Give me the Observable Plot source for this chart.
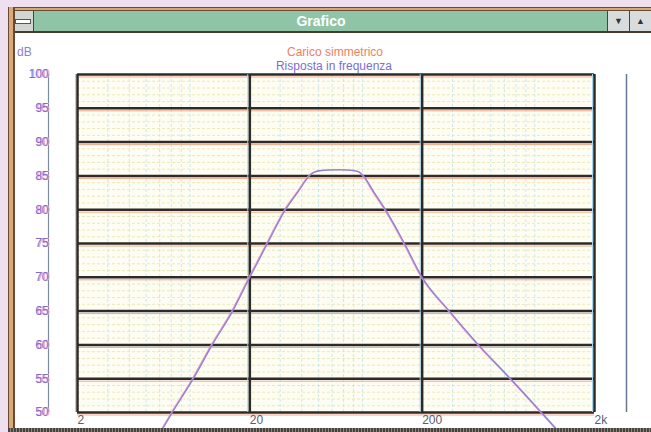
<!DOCTYPE html>
<html><head><meta charset="utf-8">
<script src="https://cdn.jsdelivr.net/npm/d3@7"></script>
<script src="https://cdn.jsdelivr.net/npm/@observablehq/plot@0.6"></script>
<style>
body{margin:0;background:#eee0ee;}
#win{position:relative;width:651px;height:432px;overflow:hidden;background:#eee0ee;font-family:"Liberation Sans",Arial,sans-serif;}
.abs{position:absolute;}
#frameTop{left:8px;top:7px;width:643px;height:4px;background:linear-gradient(#6a4a30 0 1px,#d6a878 1px 3px,#6a4a30 3px 4px);}
#frameLeft{left:8px;top:7px;width:7px;height:425px;background:linear-gradient(to right,#6a4a30 0 1px,#d8aa7a 1px 5px,#6a4a30 5px 7px);z-index:3;}
#titlebar{left:15px;top:11px;width:636px;height:20px;background:#8fc5a6;color:#fff;font-weight:bold;font-size:14px;line-height:20px;text-align:center;}
#titlebar span{position:absolute;left:0;width:612px;text-align:center;}
#sysbox{left:12px;top:11px;width:21px;height:20px;background:#d2d6d2;border-right:1px solid #444;}
#sysbox div{position:absolute;left:3px;top:8px;width:14px;height:3px;background:#fff;border:1px solid #555;}
.btn{top:11px;width:21px;height:20px;background:#d8dcdc;border-left:1px solid #444;color:#333;font-size:9px;line-height:20px;text-align:center;}
#under{left:8px;top:31px;width:643px;height:2px;background:#4a3a2e;}
#client{left:15px;top:33px;width:636px;height:395px;background:#fff;}
#bottom{left:8px;top:428px;width:643px;height:4px;background:repeating-linear-gradient(to right,#4a4440 0 2px,#8a847c 2px 3px);z-index:3;}
#t1{left:235px;width:200px;top:45px;text-align:center;color:#f2805c;font-size:12px;}
#t2{left:234px;width:200px;top:59px;text-align:center;color:#7a6ed0;font-size:12px;}
#db{left:17px;top:45px;color:#8a7ed6;font-size:12px;}
#plot{left:0;top:0;z-index:2;}
</style></head><body>
<div id="win">
  <div id="client" class="abs"></div>
  <div id="frameTop" class="abs"></div>
  <div id="frameLeft" class="abs"></div>
  <div id="titlebar" class="abs"><span>Grafico</span></div>
  <div id="sysbox" class="abs"><div></div></div>
  <div class="abs btn" style="left:607px;">▼</div>
  <div class="abs btn" style="left:629px;">▲</div>
  <div id="under" class="abs"></div>
  <div id="t1" class="abs">Carico simmetrico</div>
  <div id="t2" class="abs">Risposta in frequenza</div>
  <div id="db" class="abs">dB</div>
  <div id="plot" class="abs"></div>
  <div id="bottom" class="abs"></div>
</div>
<script>
// Frequency response (Hz -> dB)
const freqs  = [6.05, 7.1, 9.4, 12.1, 15.9, 20, 25.3, 32.2, 38, 44.4, 47, 52, 60, 70, 80, 86, 91.4, 105, 122.6, 158, 200, 288, 425, 652, 986, 1260];
const levels = [47, 50, 55, 60, 65, 70, 75, 80, 82.6, 85, 85.5, 85.8, 85.9, 85.9, 85.8, 85.6, 85, 82.6, 80, 75, 70, 65, 60, 55, 50, 47];

const yTicks = [50, 55, 60, 65, 70, 75, 80, 85, 90, 95, 100];
const xTicks = [2, 20, 200, 2000];
const xTickLabels = ["2", "20", "200", "2k"];
const minorFreqs = [3,4,5,6,7,8,9,30,40,50,60,70,80,90,300,400,500,600,700,800,900];
const minorDb = d3.range(50, 101, 1);

const data = freqs.map((f, i) => ({f, db: levels[i]}));

const chart = Plot.plot({
  width: 651, height: 432,
  marginLeft: 77, marginRight: 57, marginTop: 74, marginBottom: 20,
  style: {background: "transparent", fontFamily: "Liberation Sans, Arial, sans-serif", fontSize: "12px", overflow: "visible"},
  x: {type: "log", domain: [2, 2000]},
  y: {domain: [50, 100]},
  marks: [
    Plot.frame({fill: "#fdfdf3", stroke: null}),
    Plot.ruleY(minorDb, {stroke: "#e8eab8", strokeDasharray: "3,2", strokeWidth: 1}),
    Plot.ruleX(minorFreqs, {stroke: "#d0e6ea", strokeDasharray: "3,2", strokeWidth: 1}),
    Plot.ruleY(yTicks, {stroke: "#f3a888", dy: 2.5, strokeWidth: 1}),
    Plot.ruleY(yTicks, {stroke: "#2e2a28", strokeWidth: 2.5}),
    Plot.ruleX(xTicks, {stroke: "#a6d4ec", dx: -2}),
    Plot.ruleX(xTicks, {stroke: "#2e2a28", strokeWidth: 2.5}),
    Plot.ruleX([2], {dx: -29, stroke: "#7c8ca0", strokeWidth: 1.2}),
    Plot.ruleX([2000], {dx: 32, stroke: "#6a7890", strokeWidth: 1.5}),
    Plot.line(data, {x: "f", y: "db", stroke: "#ee8cc8", strokeWidth: 1.1, dx: -1, curve: "monotone-x"}),
    Plot.line(data, {x: "f", y: "db", stroke: "#8a80d4", strokeWidth: 1.3, curve: "monotone-x"}),
    Plot.axisY(yTicks, {anchor: "left", tickSize: 0, tickPadding: 29, color: "#f0a0d0", dx: 1.5, label: null}),
    Plot.axisY(yTicks, {anchor: "left", tickSize: 0, tickPadding: 29, color: "#7a70cc", label: null}),
    Plot.axisX(xTicks, {anchor: "bottom", tickSize: 0, tickPadding: 3, textAnchor: "start",
      tickFormat: d => xTickLabels[xTicks.indexOf(d)], color: "#5c5a70", label: null})
  ]
});
document.getElementById("plot").appendChild(chart);
</script>
</body></html>
